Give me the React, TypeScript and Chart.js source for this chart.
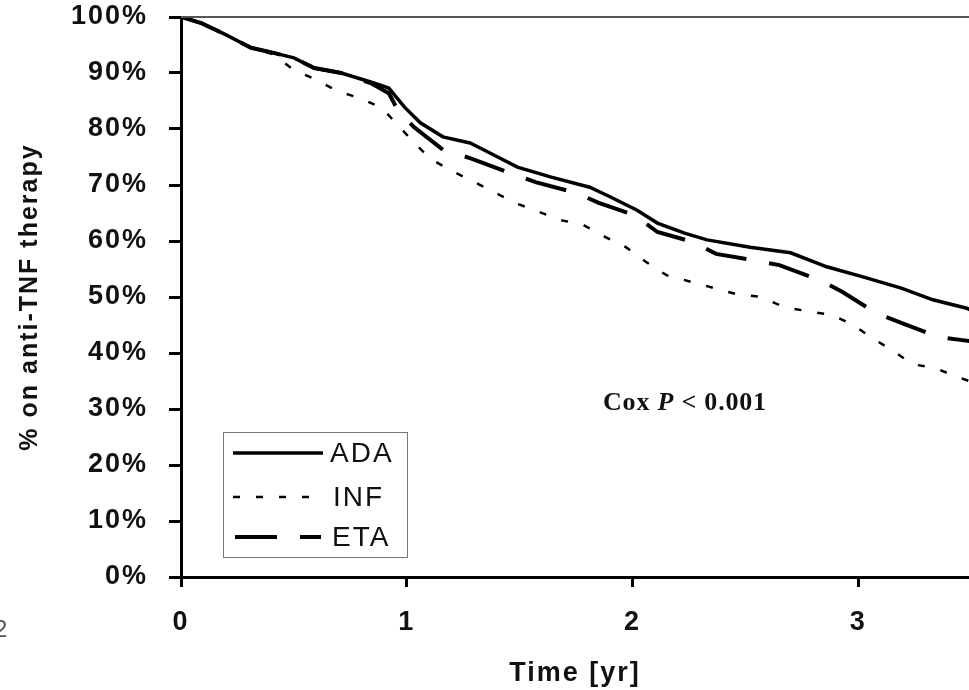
import React, { useEffect, useRef } from "react";
import { Chart, registerables } from "chart.js";

Chart.register(...registerables);

// Time in years (x) and % still on anti-TNF therapy (y)
const adaX = [0, 0.09, 0.2, 0.31, 0.41, 0.5, 0.59, 0.71, 0.84, 0.92, 0.99, 1.06, 1.16, 1.28, 1.34, 1.49, 1.64, 1.81, 1.9, 2.02, 2.11, 2.23, 2.33, 2.52, 2.7, 2.86, 3.02, 3.19, 3.33, 3.48, 3.52];
const adaY = [100, 98.9, 96.8, 94.5, 93.6, 92.7, 90.9, 90.0, 88.4, 87.3, 83.9, 81.1, 78.6, 77.5, 76.3, 73.2, 71.4, 69.6, 67.9, 65.5, 63.2, 61.4, 60.2, 58.9, 57.9, 55.4, 53.6, 51.6, 49.5, 48.0, 47.2];

const infX = [0, 0.09, 0.2, 0.31, 0.41, 0.5, 0.6, 0.69, 0.8, 0.89, 0.96, 1.03, 1.1, 1.19, 1.3, 1.48, 1.68, 1.78, 1.88, 1.97, 2.06, 2.15, 2.26, 2.36, 2.46, 2.57, 2.67, 2.77, 2.88, 2.97, 3.06, 3.15, 3.24, 3.34, 3.44, 3.52];
const infY = [100, 98.9, 96.8, 94.5, 93.3, 90.5, 88.8, 86.8, 85.4, 83.75, 80.7, 77.7, 74.8, 72.7, 70.5, 66.8, 63.75, 62.9, 60.7, 58.9, 56.25, 53.9, 52.7, 51.6, 50.5, 50.0, 48.2, 47.5, 46.8, 45.2, 42.7, 40.5, 38.0, 37.3, 35.7, 34.6];

const etaX = [0, 0.09, 0.2, 0.31, 0.41, 0.5, 0.59, 0.71, 0.84, 0.92, 0.96, 1.03, 1.16, 1.28, 1.46, 1.57, 1.75, 1.85, 2.01, 2.11, 2.27, 2.37, 2.53, 2.65, 2.83, 2.93, 3.08, 3.19, 3.35, 3.46, 3.52];
const etaY = [100, 98.9, 96.8, 94.5, 93.6, 92.7, 90.9, 90.0, 88.2, 86.4, 83.4, 80.4, 76.3, 74.8, 72.1, 70.5, 68.6, 66.8, 64.6, 61.6, 59.8, 57.7, 56.6, 55.7, 53.0, 50.9, 47.1, 45.4, 42.9, 42.3, 42.0];

const seriesNames = ["ADA", "INF", "ETA"];
const xTicks = [0, 1, 2, 3];
const yTicks = [0, 10, 20, 30, 40, 50, 60, 70, 80, 90, 100];
const xTitle = "Time [yr]";
const yTitle = "% on anti-TNF therapy";
const annotation = ["Cox ", "P", " < 0.001"];

const toPts = (xs: number[], ys: number[]) => xs.map((x, i) => ({ x, y: ys[i] }));

const SANS = '"Liberation Sans", Arial, sans-serif';
const SERIF = '"Liberation Serif", "Times New Roman", serif';
const SPACING = "2px";

const styles = [
  { width: 3.5, dash: [] as number[] },
  { width: 2.5, dash: [7, 16] },
  { width: 4, dash: [42, 23] },
];

const spacing = {
  id: "spacing",
  beforeLayout(chart: any) { chart.ctx.letterSpacing = SPACING; },
  beforeDraw(chart: any) { chart.ctx.letterSpacing = SPACING; },
};

const extras = {
  id: "extras",
  afterDraw(chart: any) {
    const { ctx, chartArea, scales } = chart;
    const y100 = scales.y.getPixelForValue(100);
    ctx.save();
    // top line at 100%
    ctx.strokeStyle = "#555";
    ctx.lineWidth = 2;
    ctx.beginPath();
    ctx.moveTo(chartArea.left, y100);
    ctx.lineTo(chartArea.right, y100);
    ctx.stroke();

    // legend box
    ctx.strokeStyle = "#777";
    ctx.lineWidth = 1;
    ctx.strokeRect(223.5, 432.5, 184, 125);
    const rows = [453, 497, 537];
    const lx = [[233, 323], [233, 318], [235, 321]];
    const tx = [330, 333, 332];
    rows.forEach((ry, i) => {
      ctx.strokeStyle = "#000";
      ctx.lineWidth = styles[i].width;
      ctx.setLineDash(styles[i].dash);
      ctx.beginPath();
      ctx.moveTo(lx[i][0], ry);
      ctx.lineTo(lx[i][1], ry);
      ctx.stroke();
      ctx.setLineDash([]);
      ctx.fillStyle = "#111";
      ctx.font = `28px ${SANS}`;
      ctx.letterSpacing = "2px";
      ctx.textBaseline = "middle";
      ctx.textAlign = "left";
      ctx.fillText(seriesNames[i], tx[i], ry + 1);
    });

    // Cox annotation
    ctx.fillStyle = "#111";
    ctx.textBaseline = "alphabetic";
    ctx.letterSpacing = "0.8px";
    let ax = 603;
    const ay = 410;
    const fonts = [`bold 26px ${SERIF}`, `italic bold 26px ${SERIF}`, `bold 26px ${SERIF}`];
    annotation.forEach((t, i) => {
      ctx.font = fonts[i];
      ctx.fillText(t, ax, ay);
      ax += ctx.measureText(t).width;
    });

    // stray page mark
    ctx.letterSpacing = "0px";
    ctx.fillStyle = "#555";
    ctx.font = `24px ${SANS}`;
    ctx.fillText("2", -6, 637);
    ctx.restore();
  },
};

export default function App() {
  const ref = useRef<HTMLCanvasElement>(null);
  useEffect(() => {
    if (!ref.current) return;
    const data = [toPts(adaX, adaY), toPts(infX, infY), toPts(etaX, etaY)];
    const chart = new Chart(ref.current, {
      type: "line",
      data: {
        datasets: data.map((d, i) => ({
          label: seriesNames[i],
          data: d,
          borderColor: "#000",
          borderWidth: styles[i].width,
          borderDash: styles[i].dash,
          pointRadius: 0,
          tension: 0,
          fill: false,
        })),
      },
      options: {
        animation: false,
        responsive: false,
        events: [],
        layout: { padding: { top: 17, right: 0, left: 0, bottom: 0 } },
        plugins: { legend: { display: false }, tooltip: { enabled: false } },
        scales: {
          x: {
            type: "linear",
            min: 0,
            max: 3.49,
            afterFit: (s: any) => { s.height = 113; s.paddingLeft = 0; s.paddingRight = 0; },
            afterBuildTicks: (s: any) => { s.ticks = xTicks.map((v) => ({ value: v })); },
            ticks: {
              includeBounds: false,
              stepSize: 1,
              padding: 19,
              color: "#111",
              font: { family: SANS, size: 27, weight: "bold" },
              maxRotation: 0,
            },
            grid: { drawOnChartArea: false, drawTicks: true, tickLength: 10, tickColor: "#000", tickWidth: 3 },
            border: { display: true, color: "#000", width: 3 },
            title: {
              display: true,
              text: xTitle,
              color: "#111",
              font: { family: SANS, size: 27, weight: "bold" },
              padding: { top: 0, bottom: 0 },
            },
          },
          y: {
            min: 0,
            max: 100,
            afterFit: (s: any) => { s.width = 181; s.paddingTop = 0; s.paddingBottom = 0; },
            afterBuildTicks: (s: any) => { s.ticks = yTicks.map((v) => ({ value: v })); },
            ticks: {
              stepSize: 10,
              padding: 21,
              color: "#111",
              font: { family: SANS, size: 27, weight: "bold" },
              callback: (v: any) => `${v}%`,
            },
            grid: { drawOnChartArea: false, drawTicks: true, tickLength: 12, tickColor: "#000", tickWidth: 3 },
            border: { display: true, color: "#000", width: 3 },
            title: {
              display: true,
              text: yTitle,
              color: "#111",
              font: { family: SANS, size: 25, weight: "bold" },
              padding: { top: 15, bottom: 0 },
            },
          },
        },
      },
      plugins: [spacing, extras],
    });
    return () => chart.destroy();
  }, []);
  return (
    <div style={{ position: "fixed", left: 0, top: 0, width: 969, height: 690, background: "#fff" }}>
      <canvas ref={ref} width={969} height={690} style={{ display: "block" }} />
    </div>
  );
}
